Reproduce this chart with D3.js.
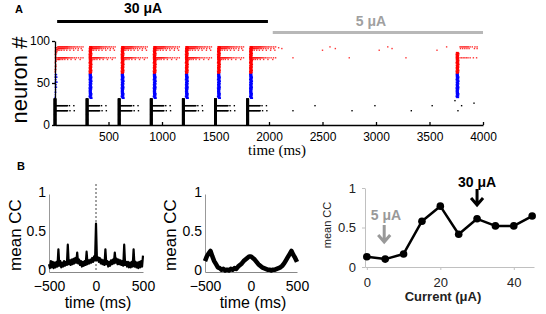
<!DOCTYPE html>
<html><head><meta charset="utf-8">
<script src="https://cdn.jsdelivr.net/npm/d3@7"></script>
<style>body{margin:0;background:#fff}svg{display:block}</style>
</head><body><svg id="c" width="546" height="314"></svg>
<script>
// ---------- Panel A: raster ----------
const rasterXTicks=[500,1000,1500,2000,2500,3000,3500,4000];
const rasterYTicks=[0,50,100];
const burstTimes=[0,300,600,900,1200,1500,1800,3730];
const burstLow=[0,0,0,0,0,0,0,33];
const burstHigh=[31,93,93,93,93,93,93,86];
const burstLag=[28,31,29,34,27,36,30,32,28,35,31,29,37,33,27,34,30,36,29,32];
const trailBursts=[0,300,600,900,1200,1500,1800];
const trailNeurons=[93,91,89,80,78,23,17];
const trailOffsets=[
 [26,32,38,44,50,56,62,68,74,80,86,92,98,104,110,116,122,130,138,148,158,170,182,196,210,226,244,262],
 [28,35,42,49,56,63,70,78,86,95,105,118,132,150,170,192,218,245],
 [30,45,62,85,110,140,175,215,255],
 [27,33,39,45,51,57,63,69,75,81,87,93,99,106,113,121,130,140,152,166,182,200,220,242,262],
 [30,42,56,72,92,118,150,190,235],
 [2,8,14,20,26,32,38,44,50,56,62,68,74,80,86,92,98,104,110,116,135,176],
 [3,9,15,21,27,33,39,45,51,57,63,69,75,81,87,93,99,105,111,117,140,180]
];
const extraT=[4,10,18,6,14,24,3,12,20,5,15,2,9,6,3,10,17,8,20,35,4,12,2,7,3,10,5,1,8,4,2,
 2,8,14,0,6,12,18,3,9,1,7,13,20,4,10,2,8,14,5,1,7,3,0,
 2090,2120,2224,2500,2570,2620,2750,3030,3110,3150,3280,3570,3660,
 3785,3795,3805,3815,3825,3835,3845,3855,3865,3880,3900,3925,3945,
 3790,3810,3830,3850,3870,3920,3945,
 3785,3800,3815,3830,3845,3860,3880,3910,3940,
 2224,2430,2776,2990,3330,3525,3738,3800,3766,3916];
const extraN=[92,92,92,90,90,90,88,88,88,86,86,84,84,82,80,80,80,78,78,78,76,76,74,72,70,70,68,66,66,64,63,
 60,60,60,57,57,57,57,54,54,51,51,51,51,48,48,45,45,45,42,39,39,36,33,
 92,91,80,89,93,91,80,89,93,91,80,89,93,
 93,93,93,93,93,93,93,93,93,93,93,93,93,
 91,91,91,91,91,91,91,
 80,80,80,80,80,80,80,80,80,
 17,23,17,23,17,23,29,23,17,26];

// ---------- Panel B: cross-correlations ----------
const ccXTicks=[-500,0,500];
const ccYTicks=[0,0.5,1];
const ccLeftTimes=d3.range(-500,501,10);
const ccLeft=[0.10,0.05,0.14,0.06,0.13,0.05,0.12,0.06,0.13,0.07,
 0.29,0.08,0.14,0.06,0.12,0.07,0.14,0.08,0.13,0.09,
 0.35,0.10,0.15,0.09,0.16,0.10,0.17,0.11,0.18,0.12,
 0.25,0.11,0.16,0.09,0.14,0.07,0.13,0.08,0.14,0.09,
 0.26,0.10,0.15,0.11,0.16,0.12,0.18,0.13,0.20,0.15,
 0.62,
 0.15,0.19,0.13,0.18,0.11,0.16,0.10,0.15,0.09,0.29,
 0.10,0.14,0.07,0.13,0.08,0.15,0.10,0.16,0.11,0.25,
 0.12,0.17,0.10,0.16,0.10,0.15,0.09,0.14,0.08,0.35,
 0.09,0.13,0.07,0.13,0.06,0.12,0.06,0.13,0.07,0.29,
 0.07,0.13,0.06,0.12,0.05,0.13,0.06,0.14,0.07,0.21];
const ccMidTimes=d3.range(-500,501,20);
const ccMid=[0.14,0.20,0.24,0.27,0.20,0.14,0.10,0.06,0.05,0.03,
 0.04,0.02,0.03,0.02,0.04,0.03,0.05,0.04,0.07,0.09,
 0.11,0.14,0.16,0.18,0.20,0.20,0.18,0.16,0.13,0.10,
 0.08,0.06,0.05,0.04,0.03,0.03,0.02,0.03,0.03,0.04,
 0.05,0.06,0.08,0.11,0.15,0.19,0.23,0.27,0.22,0.18,0.13];
const currents=[0,5,10,15,20,25,30,35,40,45];
const meanCC=[0.13,0.10,0.165,0.58,0.77,0.415,0.61,0.52,0.52,0.645];
const curXTicks=[0,20,40];
const curYTicks=[0,0.5,1];

const svg=d3.select('#c');
svg.append('rect').attr('width',546).attr('height',314).attr('fill','#fff');
const SANS='"Liberation Sans", Arial, sans-serif';
const SERIF='"Liberation Serif", "Times New Roman", serif';
const col=n=>n<32?'#000':(n<62?'#0000ff':'#ff0000');

// ===== Panel A =====
const xA=d3.scaleLinear([0,4000],[55,483]);
const yA=d3.scaleLinear([0,100],[125,41]);
const colSpikes=[], trailSpikes=[];
burstTimes.forEach((b,i)=>{
  for(let n=burstLow[i];n<=burstHigh[i];n++){
    const lag=n<32?0:burstLag[n%burstLag.length];
    colSpikes.push({t:b+lag,n});
  }
});
trailBursts.forEach(b=>{
  trailNeurons.forEach((n,j)=>trailOffsets[j].forEach(o=>trailSpikes.push({t:b+o,n})));
});
extraT.forEach((t,i)=>trailSpikes.push({t,n:extraN[i]}));
const gA=svg.append('g');
gA.selectAll('rect.tr').data(trailSpikes).join('rect').attr('class','tr')
 .attr('x',d=>xA(d.t)-0.7).attr('y',d=>yA(d.n)-0.7)
 .attr('width',1.4).attr('height',1.4).attr('fill',d=>col(d.n)).attr('fill-opacity',d=>d.n<32?1:0.8);
gA.selectAll('rect.cs').data(colSpikes).join('rect').attr('class','cs')
 .attr('x',d=>xA(d.t)-1.5).attr('y',d=>yA(d.n)-0.9)
 .attr('width',3).attr('height',1.8).attr('fill',d=>col(d.n));

const axXA=gA.append('g').attr('transform','translate(0,125)')
 .call(d3.axisBottom(xA).tickValues(rasterXTicks).tickFormat(d3.format('d')).tickSizeInner(-3).tickSizeOuter(0).tickPadding(7));
const axYA=gA.append('g').attr('transform','translate(55,0)')
 .call(d3.axisLeft(yA).tickValues(rasterYTicks).tickSizeInner(3).tickSizeOuter(0).tickPadding(2));
[axXA,axYA].forEach(a=>{a.selectAll('text').attr('font-size',12).attr('font-family',SANS).attr('fill','#000');
 a.selectAll('path,line').attr('stroke','#000').attr('stroke-width',1.3);});
gA.append('text').attr('x',277).attr('y',155).attr('text-anchor','middle')
 .attr('font-family',SERIF).attr('font-size',15).text('time (ms)');
gA.append('text').attr('transform','translate(27,80) rotate(-90)').attr('text-anchor','middle')
 .attr('font-family',SANS).attr('font-size',22).text('neuron #');
gA.append('text').attr('x',15).attr('y',13).attr('font-family',SANS).attr('font-weight','bold').attr('font-size',11).text('A');
gA.append('text').attr('x',143).attr('y',13).attr('text-anchor','middle').attr('font-family',SANS).attr('font-weight','bold').attr('font-size',14).text('30 μA');
gA.append('line').attr('x1',xA(20)).attr('x2',xA(1990)).attr('y1',21.5).attr('y2',21.5).attr('stroke','#000').attr('stroke-width',3);
gA.append('text').attr('x',371).attr('y',26).attr('text-anchor','middle').attr('font-family',SANS).attr('font-weight','bold').attr('font-size',14).attr('fill','#a0a0a0').text('5 μA');
gA.append('line').attr('x1',xA(2035)).attr('x2',xA(4000)).attr('y1',32.5).attr('y2',32.5).attr('stroke','#b8b8b8').attr('stroke-width',3);

// ===== Panel B =====
svg.append('text').attr('x',17).attr('y',170).attr('font-family',SANS).attr('font-weight','bold').attr('font-size',11).text('B');

function ccPanel(x0,x1,times,vals,sw,ylabX,dashed){
  const x=d3.scaleLinear([-500,500],[x0,x1]);
  const y=d3.scaleLinear([0,1],[272,194]);
  const g=svg.append('g');
  const ax=g.append('g').attr('transform','translate(0,272)')
   .call(d3.axisBottom(x).tickValues(ccXTicks).tickSize(0).tickPadding(9).tickFormat(d3.format('d')));
  const ay=g.append('g').attr('transform',`translate(${x0},0)`)
   .call(d3.axisLeft(y).tickValues(ccYTicks).tickSize(0).tickPadding(3).tickFormat(d=>d===0.5?'0.5':d3.format('d')(d)));
  [ax,ay].forEach(a=>{a.selectAll('text').attr('font-size',14).attr('font-family',SANS).attr('fill','#000');
    a.selectAll('path').attr('stroke','#888').attr('stroke-width',1);});
  ay.select('path').attr('stroke','#999');
  ay.selectAll('.tick text').attr('dy','0.2em');
  if(dashed) g.append('line').attr('x1',x(0)).attr('x2',x(0)).attr('y1',184).attr('y2',272)
    .attr('stroke','#444').attr('stroke-width',1).attr('stroke-dasharray','2,2');
  g.append('path').datum(times.map((t,i)=>[t,vals[i]]))
   .attr('d',d3.line().x(d=>x(d[0])).y(d=>y(d[1])))
   .attr('fill','none').attr('stroke','#000').attr('stroke-width',sw).attr('stroke-linejoin','round');
  g.append('text').attr('x',(x0+x1)/2+2).attr('y',308).attr('text-anchor','middle')
   .attr('font-family',SANS).attr('font-size',16).text('time (ms)');
  g.append('text').attr('transform',`translate(${ylabX},235) rotate(-90)`).attr('text-anchor','middle')
   .attr('font-family',SANS).attr('font-size',17).text('mean CC');
}
ccPanel(49,143,ccLeftTimes,ccLeft,2.2,21,true);
ccPanel(205,297,ccMidTimes,ccMid,4.5,176,false);

// ===== Right panel =====
const xR=d3.scaleLinear([-0.5,45.5],[365,534]);
const yR=d3.scaleLinear([0,1],[267,188]);
const gR=svg.append('g');
const axR=gR.append('g').attr('transform','translate(0,267)')
 .call(d3.axisBottom(xR).tickValues(curXTicks).tickSize(3).tickSizeOuter(0).tickPadding(8));
const ayR=gR.append('g').attr('transform','translate(365,0)')
 .call(d3.axisLeft(yR).tickValues(curYTicks).tickSize(3).tickSizeOuter(0).tickPadding(6).tickFormat(d=>d===0.5?'0.5':d3.format('d')(d)));
[axR,ayR].forEach(a=>{a.selectAll('text').attr('font-size',13).attr('font-family',SANS).attr('fill','#222');
  a.selectAll('path,line').attr('stroke','#c0c0c0').attr('stroke-width',1);});
gR.append('path').datum(currents.map((c,i)=>[c,meanCC[i]]))
 .attr('d',d3.line().x(d=>xR(d[0])).y(d=>yR(d[1])))
 .attr('fill','none').attr('stroke','#000').attr('stroke-width',2.5).attr('stroke-linejoin','round');
gR.selectAll('circle').data(currents).join('circle')
 .attr('cx',d=>xR(d)).attr('cy',(d,i)=>yR(meanCC[i])).attr('r',3.8).attr('fill','#000');
gR.append('text').attr('x',443).attr('y',301).attr('text-anchor','middle').attr('font-family',SANS)
 .attr('font-weight','bold').attr('font-size',13).attr('fill','#222').text('Current (μA)');
gR.append('text').attr('transform','translate(331,225) rotate(-90)').attr('text-anchor','middle')
 .attr('font-family',SANS).attr('font-size',11).attr('fill','#222').text('mean CC');
function arrow(cx,y0,y1,color){
  gR.append('path').attr('d',`M${cx},${y0}V${y1}M${cx-6},${y1-7}L${cx},${y1}L${cx+6},${y1-7}`)
   .attr('fill','none').attr('stroke',color).attr('stroke-width',3);
}
gR.append('text').attr('x',xR(30)).attr('y',187).attr('text-anchor','middle').attr('font-family',SANS)
 .attr('font-weight','bold').attr('font-size',14).text('30 μA');
arrow(xR(30),189,205,'#000');
gR.append('text').attr('x',386).attr('y',220).attr('text-anchor','middle').attr('font-family',SANS)
 .attr('font-weight','bold').attr('font-size',14).attr('fill','#999').text('5 μA');
arrow(xR(5)-1,225,242,'#999');
</script></body></html>
